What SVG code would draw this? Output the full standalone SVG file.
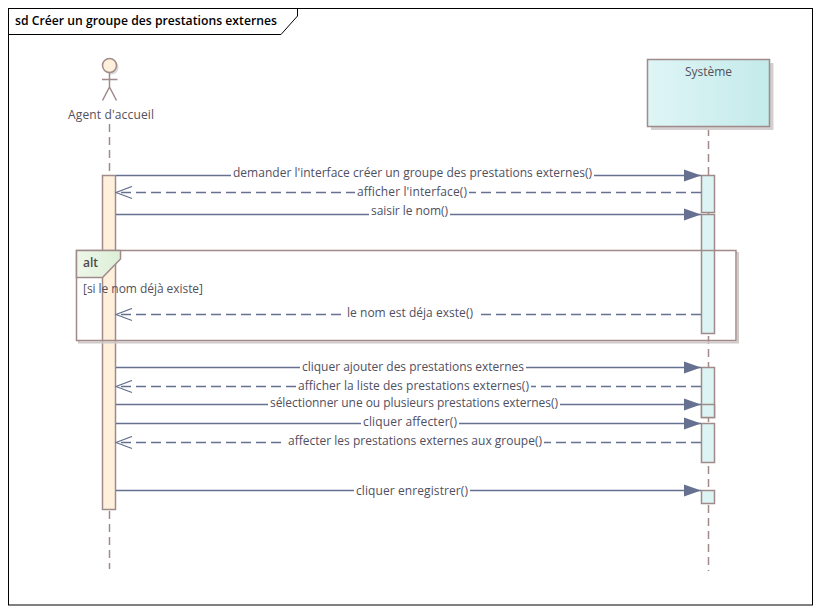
<svg xmlns="http://www.w3.org/2000/svg" width="820" height="613" viewBox="0 0 820 613">
<style>
text{font-family:"Open Sans","Noto Sans","Liberation Sans",sans-serif;font-size:12px;fill:#55505a}
.lbl{text-anchor:middle;fill:#4f4f5f}
.bg{fill:#fff}
.life{fill:none;stroke:#a08a8a;stroke-width:1.5;stroke-dasharray:8 5}
.actA{fill:#fff0dc;stroke:#a08a8a;stroke-width:1.5}
.actS{fill:#dcf4f4;stroke:#a08a8a;stroke-width:1.5}
.call{fill:none;stroke:#667090;stroke-width:1.5}
.ret{fill:none;stroke:#667090;stroke-width:1.5;stroke-dasharray:10 5}
.fr{fill:none;stroke:#a08a8a;stroke-width:1.5}
</style>
<defs>
<linearGradient id="sysG" x1="0" x2="1" y1="0" y2="0"><stop offset="0" stop-color="#dff5f6"/><stop offset="1" stop-color="#c4eaea"/></linearGradient>
<linearGradient id="altG" x1="0" x2="1" y1="0" y2="0"><stop offset="0" stop-color="#eef7ea"/><stop offset="1" stop-color="#dcefd6"/></linearGradient>
<marker id="fill" markerUnits="userSpaceOnUse" markerWidth="18" markerHeight="14" refX="17" refY="7" orient="auto"><path d="M0 1 L17 7 L0 13 Z" fill="#667090"/></marker>
<marker id="open" markerUnits="userSpaceOnUse" markerWidth="18" markerHeight="14" refX="17" refY="7" orient="auto"><path d="M1 1 L17 7 L1 13" fill="none" stroke="#667090" stroke-width="1.3"/></marker>
</defs>
<rect width="820" height="613" fill="#fff"/>
<g id="frame">
<rect x="8.5" y="8.5" width="804" height="596.5" fill="none" stroke="#000" stroke-width="1"/>
<path d="M8.5 34.5 H281 L297.5 16 V8.5" fill="none" stroke="#000" stroke-width="1"/>
<text x="15" y="25" textLength="262" style="font-size:12.2px;font-weight:600;fill:#000">sd Créer un groupe des prestations externes</text>
</g>
<g id="lifelines">
<path class="life" d="M109.500 124 V175"/>
<path class="life" d="M109.500 511 V569"/>
<path class="life" d="M708.500 128 V571"/>
</g>
<g id="actor-agent">
<circle cx="111.500" cy="67.500" r="7" fill="#d8d8d8"/>
<circle cx="109.500" cy="65.500" r="7" fill="#fff0dc" stroke="#a08a8a" stroke-width="1.500"/>
<path d="M109.500 72.500 V87 M102 79.500 H117.500 M109.500 87 L102.500 100.500 M109.500 87 L116.500 100.500" fill="none" stroke="#a08a8a" stroke-width="1.500"/>
<text x="111" y="119" text-anchor="middle" textLength="86">Agent d'accueil</text>
</g>
<g id="activation-agent"><rect class="actA" x="102.500" y="175.500" width="13" height="334"/></g>
<g id="system">
<rect x="651" y="63" width="122.500" height="67" fill="#d4d0d0"/>
<rect x="647.500" y="59.500" width="122" height="67" fill="url(#sysG)" stroke="#a08a8a" stroke-width="1.500"/>
<text x="708.500" y="76" text-anchor="middle">Système</text>
</g>
<g id="activations-system">
<rect class="actS" x="701.500" y="175.500" width="13" height="37"/>
<rect class="actS" x="701.500" y="214.500" width="13" height="119"/>
<rect class="actS" x="701.500" y="367.500" width="13" height="50"/>
<rect class="actS" x="701.500" y="404.500" width="13" height="13"/>
<rect class="actS" x="701.500" y="423.500" width="13" height="39"/>
<rect class="actS" x="701.500" y="490.500" width="13" height="13"/>
</g>
<g id="fragment-alt">
<path d="M736 253 H738 V342.500 H79 V340" fill="none" stroke="#d0caca" stroke-width="2"/>
<rect class="fr" x="76.500" y="250.500" width="659.500" height="90"/>
<path d="M76.500 250.500 H120.500 V259 L102.500 277.500 H76.500 Z" fill="url(#altG)" stroke="#a08a8a" stroke-width="1.500"/>
<text x="83" y="267" style="font-weight:600;fill:#4a4a4a">alt</text>
<text x="83" y="293" textLength="120">[si le nom déjà existe]</text>
</g>
<g id="connectors">
<path class="call" marker-end="url(#fill)" d="M116 175.500 H701"/>
<rect class="bg" x="231" y="165" width="363" height="15"/>
<text class="lbl" x="412.500" y="177" textLength="359">demander l'interface créer un groupe des prestations externes()</text>
<path class="ret" marker-end="url(#open)" d="M701 192.500 H116"/>
<rect class="bg" x="355" y="185" width="114" height="15"/>
<text class="lbl" x="412" y="196" textLength="110">afficher l'interface()</text>
<path class="call" marker-end="url(#fill)" d="M116 214.500 H701"/>
<rect class="bg" x="369" y="205" width="81" height="14"/>
<text class="lbl" x="409.500" y="215" textLength="77">saisir le nom()</text>
<path class="ret" marker-end="url(#open)" d="M701 314.500 H116"/>
<rect class="bg" x="343" y="305" width="134" height="15"/>
<text class="lbl" x="410" y="317" textLength="126">le nom est déja exste()</text>
<path class="call" marker-end="url(#fill)" d="M116 367.500 H701"/>
<rect class="bg" x="300" y="359" width="226" height="14"/>
<text class="lbl" x="413" y="371" textLength="222">cliquer ajouter des prestations externes</text>
<path class="ret" marker-end="url(#open)" d="M701 386.500 H116"/>
<rect class="bg" x="296" y="378" width="235" height="15"/>
<text class="lbl" x="413.500" y="390" textLength="231">afficher la liste des prestations externes()</text>
<path class="call" marker-end="url(#fill)" d="M116 404.500 H701"/>
<rect class="bg" x="268" y="395" width="292" height="15"/>
<text class="lbl" x="414" y="407" textLength="288">sélectionner une ou plusieurs prestations externes()</text>
<path class="call" marker-end="url(#fill)" d="M116 423.500 H701"/>
<rect class="bg" x="361" y="414" width="98" height="15"/>
<text class="lbl" x="410" y="426" textLength="94">cliquer affecter()</text>
<path class="ret" marker-end="url(#open)" d="M701 442.500 H116"/>
<rect class="bg" x="286" y="433" width="258" height="15"/>
<text class="lbl" x="415" y="445" textLength="254">affecter les prestations externes aux groupe()</text>
<path class="call" marker-end="url(#fill)" d="M116 490.500 H701"/>
<rect class="bg" x="354" y="482" width="116" height="15"/>
<text class="lbl" x="412" y="495" textLength="112">cliquer enregistrer()</text>
</g>
</svg>
